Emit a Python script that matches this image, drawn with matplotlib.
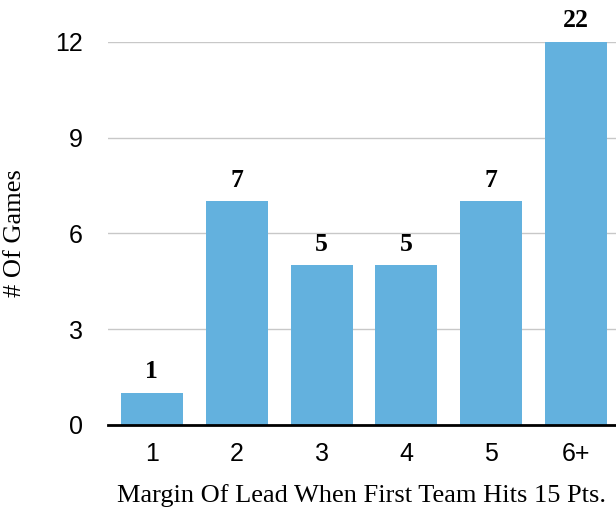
import matplotlib.pyplot as plt

# data
categories = ['1', '2', '3', '4', '5', '6+']
games = [1, 7, 5, 5, 7, 22]
y_ticks = [0, 3, 6, 9, 12]

fig = plt.figure(figsize=(6.16, 5.08), dpi=100)
ax = fig.add_axes([0.175, 0.1634, 0.825, 0.7545])

x = list(range(len(categories)))
ax.bar(x, games, width=0.73, color='#63b1de', zorder=2)

ax.set_ylim(0, 12)
ax.set_xlim(-0.52, 5.47)
ax.set_yticks(y_ticks)
ax.set_xticks(x)
ax.set_xticklabels(categories)
ax.yaxis.grid(True, color='#c8c8c8', linewidth=1.0, zorder=0)
ax.set_axisbelow(True)

for s in ['left', 'right', 'top']:
    ax.spines[s].set_visible(False)
ax.spines['bottom'].set_linewidth(2)
ax.spines['bottom'].set_zorder(3)
ax.tick_params(length=0, labelsize=18, colors='black')
ax.tick_params(axis='y', pad=18)
ax.tick_params(axis='x', pad=12)
for lbl in ax.get_xticklabels() + ax.get_yticklabels():
    lbl.set_fontfamily('Liberation Sans')

# value labels, the tall bar is cut at the top of the axis
for xi, v in zip(x, games):
    ax.annotate(str(v), (xi, min(v, 12)), xytext=(0, 7), textcoords='offset points',
                ha='center', va='bottom', fontsize=18.5, fontweight='bold',
                fontfamily='Liberation Serif', annotation_clip=False)

ax.set_xlabel('Margin Of Lead When First Team Hits 15 Pts.', fontsize=19,
              fontfamily='Liberation Serif', va='center')
ax.xaxis.set_label_coords(0.5, -0.183)
ax.set_ylabel('# Of Games', fontsize=19, fontfamily='Liberation Serif', va='center')
ax.yaxis.set_label_coords(-0.183, 0.5)

fig.savefig('out.png', dpi=100)
